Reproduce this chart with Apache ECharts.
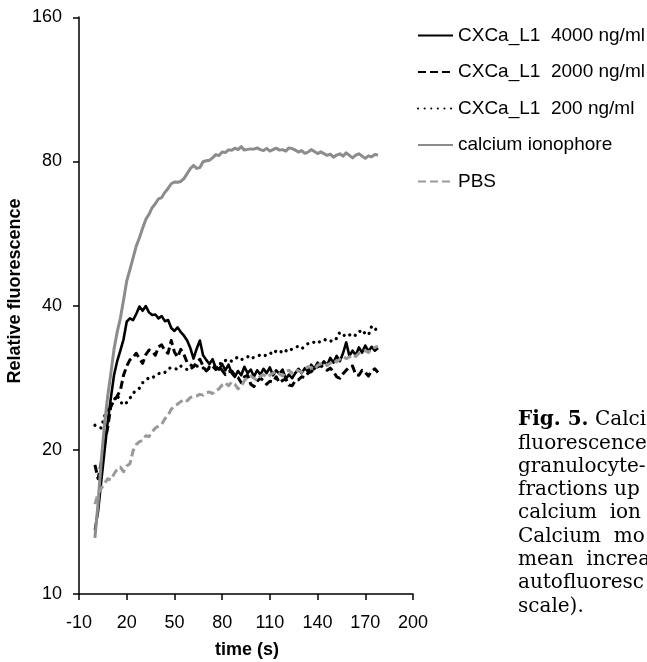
<!DOCTYPE html>
<html>
<head>
<meta charset="utf-8">
<script src="https://cdn.jsdelivr.net/npm/echarts@6/dist/echarts.min.js"></script>
<style>
  html, body { margin: 0; padding: 0; background: #fff; }
  #chart { width: 647px; height: 662px; }
</style>
</head>
<body>
<div id="chart"></div>
<script>
// Sampling times (s)
const times = [
  0, 2, 4, 6, 8, 10, 12, 14, 16, 18,
  20, 22, 24, 26, 28, 30, 32, 34, 36, 38,
  40, 42, 44, 46, 48, 50, 52, 54, 56, 58,
  60, 62, 64, 66, 68, 70, 72, 74, 76, 78,
  80, 82, 84, 86, 88, 90, 92, 94, 96, 98,
  100, 102, 104, 106, 108, 110, 112, 114, 116, 118,
  120, 122, 124, 126, 128, 130, 132, 134, 136, 138,
  140, 142, 144, 146, 148, 150, 152, 154, 156, 158,
  160, 162, 164, 166, 168, 170, 172, 174, 176, 178];

// Relative fluorescence per condition
const cxca4000 = [
  13.6, 14.9, 17.2, 19.8, 22.8, 25.6, 28.6, 30.6, 32.2, 34.0,
  37.0, 37.6, 37.3, 38.4, 39.8, 39.0, 39.9, 38.7, 38.2, 38.3,
  37.6, 38.0, 37.1, 37.3, 35.9, 35.4, 36.0, 35.2, 34.6, 33.8,
  32.6, 31.0, 32.5, 33.8, 31.5, 30.8, 30.2, 30.9, 29.6, 29.4,
  30.2, 29.3, 30.1, 28.9, 28.4, 29.2, 28.6, 29.8, 28.9, 29.4,
  28.4, 29.3, 28.7, 29.5, 28.9, 29.7, 28.6, 29.3, 28.8, 29.4,
  28.1, 28.7, 28.2, 28.9, 29.5, 28.9, 29.6, 29.1, 30.1, 29.5,
  30.4, 29.9, 30.6, 30.0, 31.1, 30.4, 31.4, 30.6, 31.8, 33.5,
  31.4, 32.2, 31.5, 32.7, 31.9, 33.0, 32.1, 32.8, 32.2, 32.6];

const cxca2000 = [
  18.6, 17.4, 18.8, 20.5, 22.2, 24.6, 25.3, 25.9, 26.6, 28.6,
  29.9, 30.8, 31.2, 31.8, 31.0, 30.3, 31.6, 32.3, 32.1, 31.5,
  32.8, 33.1, 32.2, 31.8, 33.8, 32.0, 31.2, 32.4, 31.6, 30.4,
  30.1, 29.8, 30.4, 30.9, 29.9, 29.2, 29.6, 29.9, 29.4, 29.9,
  29.3, 28.7, 29.1, 29.2, 28.6, 28.3, 27.6, 28.4, 28.6, 27.4,
  27.1, 27.8, 28.2, 27.9, 27.4, 27.8, 27.7, 28.4, 27.6, 27.9,
  28.1, 27.3, 27.2, 27.9, 28.0, 28.4, 28.3, 28.9, 29.1, 29.6,
  29.8, 30.0, 29.6, 29.3, 29.6, 29.1, 28.4, 28.2, 28.8, 29.3,
  29.8, 29.9, 28.7, 28.6, 29.3, 29.0, 28.5, 29.2, 29.5, 29.0];

const cxca200 = [
  22.5, 22.3, 22.2, 23.5, 24.2, 24.9, 25.4, 26.0, 25.2, 24.8,
  25.1, 25.6, 26.3, 26.5, 26.9, 27.6, 27.9, 28.3, 28.2, 28.6,
  28.8, 29.1, 29.0, 29.5, 29.7, 29.6, 29.4, 29.9, 29.6, 29.4,
  29.8, 29.5, 29.9, 29.8, 29.6, 29.9, 29.7, 29.6, 30.0, 30.3,
  30.2, 30.7, 30.9, 30.6, 31.0, 31.2, 30.8, 31.1, 31.3, 30.9,
  31.2, 31.4, 31.5, 31.3, 31.6, 31.9, 31.6, 32.2, 32.3, 31.8,
  32.2, 32.0, 32.5, 32.7, 32.9, 32.5, 32.9, 33.3, 33.6, 33.5,
  33.3, 33.8, 34.0, 33.8, 33.6, 34.2, 34.1, 35.2, 34.8, 34.4,
  34.7, 35.0, 34.6, 35.2, 35.6, 34.9, 34.7, 36.2, 35.6, 35.9];

const ionophore = [
  13.1, 15.5, 19.0, 22.5, 25.8, 28.8, 32.4, 35.2, 37.6, 41.0,
  45.0, 47.5, 50.3, 53.2, 55.4, 58.0, 60.5, 62.0, 64.0, 65.2,
  66.8, 67.2, 68.9, 70.2, 71.8, 72.4, 72.3, 72.6, 73.6, 75.4,
  77.2, 78.4, 77.3, 77.6, 79.8, 80.2, 80.4, 81.3, 82.6, 82.2,
  83.6, 83.4, 84.5, 84.3, 85.2, 84.6, 85.8, 84.4, 84.7, 84.9,
  84.8, 85.3, 84.6, 84.2, 85.1, 84.0, 84.6, 85.2, 84.4, 84.6,
  84.0, 85.3, 85.0, 84.4, 83.6, 84.2, 83.1, 83.6, 84.6, 83.8,
  83.0, 83.7, 83.0, 82.3, 82.8, 81.6, 82.4, 82.9, 82.0, 83.3,
  82.3, 81.3, 82.4, 82.9, 82.0, 81.1, 82.1, 81.7, 82.6, 82.4];

const pbs = [
  15.4, 16.2, 16.6, 17.0, 17.4, 17.3, 17.8, 18.2, 18.4, 18.0,
  18.5, 18.7, 19.9, 20.5, 20.8, 20.9, 21.4, 21.3, 21.8, 22.2,
  22.4, 22.6, 23.2, 23.6, 24.3, 24.7, 24.9, 25.2, 25.5, 25.3,
  25.7, 25.8, 25.9, 26.1, 26.0, 26.3, 26.4, 26.2, 26.6, 26.8,
  27.3, 27.6, 27.2, 27.7, 27.4, 26.8, 27.1, 27.9, 28.3, 28.5,
  28.2, 27.9, 28.5, 28.7, 28.3, 28.6, 28.9, 29.2, 28.8, 28.5,
  29.1, 29.3, 28.9, 29.4, 29.2, 29.0, 29.5, 29.8, 29.7, 29.4,
  30.0, 30.2, 30.4, 30.0, 30.3, 30.8, 30.5, 30.9, 31.3, 31.0,
  31.2, 31.6, 31.3, 31.8, 32.0, 32.2, 31.9, 32.5, 32.7, 32.9];

const seriesNames = ['CXCa_L1  4000 ng/ml', 'CXCa_L1  2000 ng/ml', 'CXCa_L1  200 ng/ml', 'calcium ionophore', 'PBS'];

// Figure caption lines (rich text: {b|...} is bold)
const captionLines = [
  '{b|Fig. 5.} Calci',
  'fluorescence',
  'granulocyte-',
  'fractions up',
  'calcium  ion',
  'Calcium  mo',
  'mean  increa',
  'autofluoresc',
  'scale).'
];

const FONT = 'Liberation Sans';
const pair = arr => times.map((t, i) => [t, arr[i]]);

const styles = [
  { color: '#000000', width: 2.6, type: 'solid', cap: 'butt' },
  { color: '#000000', width: 3, type: [8, 4], cap: 'butt' },
  { color: '#000000', width: 3.2, type: [0.1, 6.5], cap: 'round' },
  { color: '#8c8c8c', width: 3, type: 'solid', cap: 'butt' },
  { color: '#999999', width: 3, type: [8, 4], cap: 'butt' }
];
const dataSets = [cxca4000, cxca2000, cxca200, ionophore, pbs];

const series = dataSets.map((arr, k) => ({
  name: seriesNames[k],
  type: 'line',
  data: pair(arr),
  symbol: 'none',
  showSymbol: false,
  animation: false,
  color: styles[k].color,
  lineStyle: { color: styles[k].color, width: styles[k].width, type: styles[k].type, cap: styles[k].cap, join: 'round' }
}));

const graphics = [
  { type: 'text', x: 15, y: 291, rotation: Math.PI / 2,
    style: { text: 'Relative fluorescence', font: 'bold 18px Liberation Sans', fill: '#000', align: 'center', verticalAlign: 'middle' } },
  { type: 'text', x: 247, y: 650,
    style: { text: 'time (s)', font: 'bold 18px Liberation Sans', fill: '#000', align: 'center', verticalAlign: 'middle' } }
];
captionLines.forEach((line, i) => {
  graphics.push({
    type: 'text', x: 518, y: 430 + 23.3 * i,
    style: {
      text: line,
      font: '20px DejaVu Serif',
      fill: '#000', align: 'left', verticalAlign: 'bottom',
      rich: { b: { font: 'bold 20px DejaVu Serif', fill: '#000' } }
    }
  });
});

const chart = echarts.init(document.getElementById('chart'), null, { renderer: 'canvas' });
chart.setOption({
  animation: false,
  backgroundColor: '#ffffff',
  grid: { left: 79, right: 234, top: 17, bottom: 68, containLabel: false, outerBoundsMode: 'none' },
  xAxis: {
    type: 'value', min: -10, max: 200, interval: 30,
    axisLine: { show: true, onZero: false, lineStyle: { color: '#000', width: 1.5 } },
    axisTick: { show: true, length: 6, lineStyle: { color: '#000', width: 1.5 } },
    axisLabel: { color: '#000', fontSize: 18, fontFamily: FONT, margin: 20, hideOverlap: false },
    splitLine: { show: false }
  },
  yAxis: {
    type: 'log', logBase: 2, min: 10, max: 160, interval: 1,
    axisLine: { show: true, onZero: false, lineStyle: { color: '#000', width: 1.5 } },
    axisTick: { show: true, length: 6, lineStyle: { color: '#000', width: 1.5 } },
    axisLabel: { color: '#000', fontSize: 18, fontFamily: FONT, margin: 17, formatter: v => String(Math.round(v)) },
    splitLine: { show: false }
  },
  legend: {
    orient: 'vertical', left: 412, top: 21,
    itemWidth: 35, itemHeight: 14, itemGap: 17.5,
    itemStyle: { opacity: 0 },
    textStyle: { color: '#000', fontSize: 19, fontFamily: FONT },
    data: seriesNames
  },
  graphic: graphics,
  series: series
});
</script>
</body>
</html>
